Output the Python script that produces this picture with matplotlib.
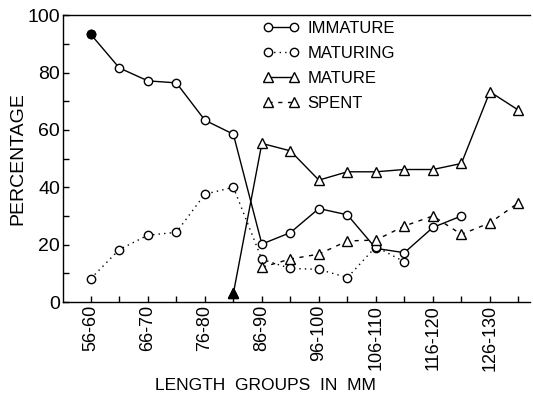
import matplotlib
matplotlib.use("Agg")
import matplotlib.pyplot as plt

# length groups (5 mm classes), only every other one is labelled
groups = ['56-60', '61-65', '66-70', '71-75', '76-80', '81-85', '86-90', '91-95',
          '96-100', '101-105', '106-110', '111-115', '116-120', '121-125',
          '126-130', '131-135']
tick_groups = ['56-60', '66-70', '76-80', '86-90', '96-100', '106-110', '116-120', '126-130']

# percentages
immature_groups = groups[0:14]
immature = [93.3, 81.6, 77.1, 76.4, 63.4, 58.5, 20.2, 24.2, 32.6, 30.4, 18.7, 17.2, 26.0, 30.0]

maturing_groups = groups[0:12]
maturing = [8.2, 18.3, 23.3, 24.3, 37.6, 40.0, 14.9, 11.7, 11.4, 8.5, 19.3, 14.0]

mature_groups = groups[5:16]
mature = [3.0, 55.3, 52.7, 42.5, 45.4, 45.4, 46.2, 46.2, 48.3, 73.3, 66.9]

spent_groups = groups[6:16]
spent = [12.1, 15.0, 16.7, 21.3, 21.6, 26.5, 30.0, 23.6, 27.6, 34.6]

plt.rcParams['font.family'] = ['Liberation Sans', 'DejaVu Sans']

pos = {g: i for i, g in enumerate(groups)}
def xs(gs):
    return [pos[g] for g in gs]

fig = plt.figure(figsize=(5.33, 3.99), dpi=100)
ax = fig.add_axes([0.118, 0.243, 0.876, 0.719])

ax.plot(xs(immature_groups), immature, color='black', lw=1.0, ls='-',
        marker='o', ms=6, mfc='white', mec='black', mew=1.0, label='IMMATURE')
ax.plot(xs(maturing_groups), maturing, color='black', lw=1.0, ls=(0, (1, 3)),
        marker='o', ms=6, mfc='white', mec='black', mew=1.0, label='MATURING')
ax.plot(xs(mature_groups), mature, color='black', lw=1.0, ls='-',
        marker='^', ms=7, mfc='white', mec='black', mew=1.0, label='MATURE')
ax.plot(xs(spent_groups), spent, color='black', lw=1.0, ls=(0, (3, 4)),
        marker='^', ms=7, mfc='white', mec='black', mew=1.0, label='SPENT')

# filled end markers as in the original
ax.plot(xs(immature_groups[:1]), immature[:1], ls='none', marker='o', ms=6, color='black')
ax.plot(xs(mature_groups[:1]), mature[:1], ls='none', marker='^', ms=7, color='black')

ax.set_xlim(-0.98, 15.4)
ax.set_ylim(0, 100)

ax.set_xticks(xs(tick_groups))
ax.set_xticklabels(tick_groups, rotation=90, fontsize=13)
ax.set_xticks(range(1, len(groups), 2), minor=True)
ax.set_yticks([0, 20, 40, 60, 80, 100])
ax.set_yticklabels(['0', '20', '40', '60', '80', '100'], fontsize=14)
ax.set_yticks([10, 30, 50, 70, 90], minor=True)
ax.tick_params(which='both', direction='in', length=4, width=1, pad=2, colors='black')

ax.spines['right'].set_visible(False)
for s in ['left', 'bottom', 'top']:
    ax.spines[s].set_linewidth(1.0)

ax.set_ylabel('PERCENTAGE', fontsize=14, labelpad=1)
fig.text(0.498, 0.035, 'LENGTH  GROUPS  IN  MM', fontsize=12.5, ha='center', va='center')

ax.legend(loc='upper left', bbox_to_anchor=(0.428, 0.98), frameon=False,
          fontsize=12, handlelength=2.2, handletextpad=0.5, labelspacing=0.6,
          borderpad=0, borderaxespad=0, numpoints=2)

fig.savefig('out.png', dpi=100)
